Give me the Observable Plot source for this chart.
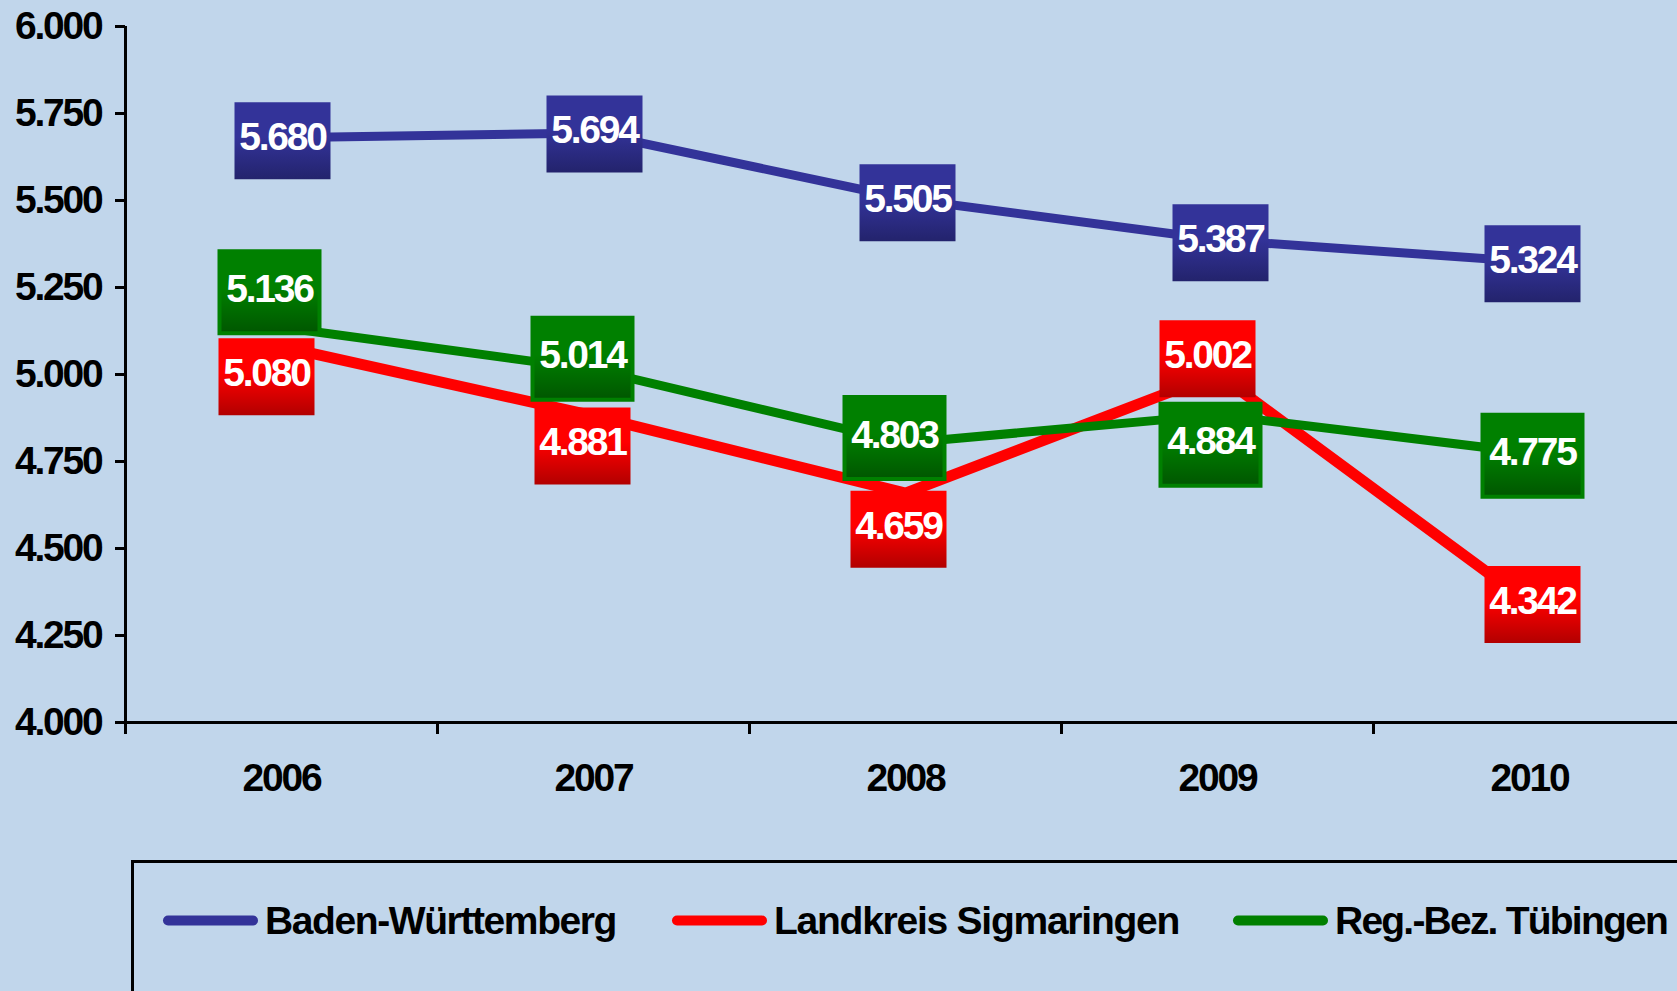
<!DOCTYPE html>
<html>
<head>
<meta charset="utf-8">
<script src="https://cdn.jsdelivr.net/npm/d3@7"></script>
<script src="https://cdn.jsdelivr.net/npm/@observablehq/plot@0.6"></script>
<style>
  html, body { margin: 0; padding: 0; background: #c1d6eb; overflow: hidden; }
  #chart { position: relative; width: 1677px; height: 991px; background: #c1d6eb; overflow: hidden;
           font-family: "Liberation Sans", Arial, sans-serif; }
  #chart svg { display: block; }
  #chart svg text { letter-spacing: -2.2px; }
  #legend { position: absolute; left: 131px; top: 860px; width: 1700px; height: 200px;
            border-top: 3px solid #000; border-left: 3px solid #000; }
  .item { position: absolute; top: 57px; transform: translateY(-50%); display: flex; align-items: center; }
  .swatch { width: 95px; height: 10px; border-radius: 5px; flex: none; }
  .ltext { margin-left: 7px; font-size: 39px; font-weight: bold; line-height: 1; letter-spacing: -0.7px; color: #000; white-space: nowrap; }
</style>
</head>
<body>
<div id="chart"></div>
<script>
// ---- data ----
const years = [2006, 2007, 2008, 2009, 2010];
const seriesNames = ["Baden-Württemberg", "Landkreis Sigmaringen", "Reg.-Bez. Tübingen"];
const valuesBW  = [5680, 5694, 5505, 5387, 5324];
const valuesSIG = [5080, 4881, 4659, 5002, 4342];
const valuesTUE = [5136, 5014, 4803, 4884, 4775];
const yTicks = [4000, 4250, 4500, 4750, 5000, 5250, 5500, 5750, 6000];

// ---- styles ----
const seriesStyle = [
  {color: "#333399", top: "#333399", bottom: "#23236c", width: 9,  stroke: "none",    gid: "gBW",  w: 96,  h: 77},
  {color: "#ff0000", top: "#ff0000", bottom: "#b20000", width: 11, stroke: "none",    gid: "gSIG", w: 96,  h: 77},
  {color: "#008000", top: "#008000", bottom: "#005600", width: 9,  stroke: "#008000", gid: "gTUE", w: 100, h: 82}
];
// label box offsets from the data point, in pixels (layout only)
const labelOffsets = [
  [[1, 3], [1, 1], [2, 4], [3, 3], [3, 2]],
  [[-15, 30], [-11, 30], [-7, 36], [-10, -15], [3, 1]],
  [[-12, -35], [-11, -11], [-11, -5], [-7, 30], [3, 3]]
];
const legendLeft = [29, 538, 1099];
const legendTextWidth = [351, 405, 332];

const allValues = [valuesBW, valuesSIG, valuesTUE];
const fmt = d => d3.format(",")(d).replace(/,/g, ".");

const table = seriesNames.flatMap((name, s) =>
  years.map((year, i) => ({series: name, s, i, year, value: allValues[s][i]})));

function nudge(offsets, extraDy = 0) {
  return (index, scales, values, dimensions, context, next) => {
    const x = Array.from(values.x, (v, i) => v + offsets[i][0]);
    const y = Array.from(values.y, (v, i) => v + offsets[i][1] + extraDy);
    return next(index, scales, {...values, x, y}, dimensions, context);
  };
}
const boxSymbol = (w, h) => ({draw(ctx) { ctx.rect(-w / 2, -h / 2, w, h); }});

const marks = [
  Plot.ruleY([yTicks[0]], {stroke: "#000", strokeWidth: 3}),
  Plot.ruleX([years[0] - 0.5], {y1: yTicks[0], y2: yTicks[yTicks.length - 1], stroke: "#000", strokeWidth: 3}),
  Plot.axisY({ticks: yTicks, tickFormat: fmt, tickSize: 10, tickPadding: 14, fontSize: 39,
              fontWeight: "bold", strokeWidth: 3, label: null}),
  Plot.axisX({ticks: years, tickSize: 0, tickPadding: 41, tickFormat: d => String(d), fontSize: 39,
              fontWeight: "bold", label: null}),
  Plot.axisX({ticks: years.map(y => y - 0.5), tickSize: 12, tickFormat: () => "", strokeWidth: 3, label: null})
];

seriesNames.forEach((name, s) => {
  const st = seriesStyle[s];
  marks.push(Plot.line(table.filter(d => d.s === s), {
    x: "year", y: "value", stroke: st.color, strokeWidth: st.width,
    strokeLinejoin: "round", strokeLinecap: "round"
  }));
});
seriesNames.forEach((name, s) => {
  const st = seriesStyle[s];
  const rows = table.filter(d => d.s === s);
  marks.push(Plot.dot(rows, {
    x: "year", y: "value", r: 10, symbol: boxSymbol(st.w, st.h),
    fill: `url(#${st.gid})`, stroke: st.stroke, strokeWidth: 4,
    render: nudge(labelOffsets[s])
  }));
  marks.push(Plot.text(rows, {
    x: "year", y: "value", text: d => fmt(d.value), fill: "white",
    fontSize: 39, fontWeight: "bold",
    render: nudge(labelOffsets[s], -3)
  }));
});

const svg = Plot.plot({
  width: 1677,
  height: 860,
  marginLeft: 125,
  marginRight: 0,
  marginTop: 26,
  marginBottom: 138,
  style: {background: "transparent", color: "#000", fontFamily: "'Liberation Sans', Arial, sans-serif", overflow: "visible"},
  x: {domain: [years[0] - 0.5, years[years.length - 1] + 0.5], range: [125, 1685]},
  y: {domain: [yTicks[0], yTicks[yTicks.length - 1]]},
  marks
});

const defs = d3.select(svg).insert("defs", ":first-child");
seriesStyle.forEach(st => {
  const g = defs.append("linearGradient").attr("id", st.gid)
    .attr("x1", 0).attr("y1", 0).attr("x2", 0).attr("y2", 1);
  g.append("stop").attr("offset", "0").attr("stop-color", st.top);
  g.append("stop").attr("offset", "0.45").attr("stop-color", st.top);
  g.append("stop").attr("offset", "1").attr("stop-color", st.bottom);
});

const chart = document.getElementById("chart");
chart.appendChild(svg);

const legend = document.createElement("div");
legend.id = "legend";
chart.appendChild(legend);
seriesNames.forEach((name, s) => {
  const item = document.createElement("div");
  item.className = "item";
  item.style.left = legendLeft[s] + "px";
  const sw = document.createElement("div");
  sw.className = "swatch";
  sw.style.background = seriesStyle[s].color;
  const tx = document.createElement("span");
  tx.className = "ltext";
  tx.textContent = name;
  item.appendChild(sw);
  item.appendChild(tx);
  legend.appendChild(item);
  // fit label to its width in the reference by adjusting letter spacing
  const measured = tx.getBoundingClientRect().width;
  const ls = -0.7 + (legendTextWidth[s] - measured) / name.length;
  tx.style.letterSpacing = ls.toFixed(2) + "px";
});
</script>
</body>
</html>
